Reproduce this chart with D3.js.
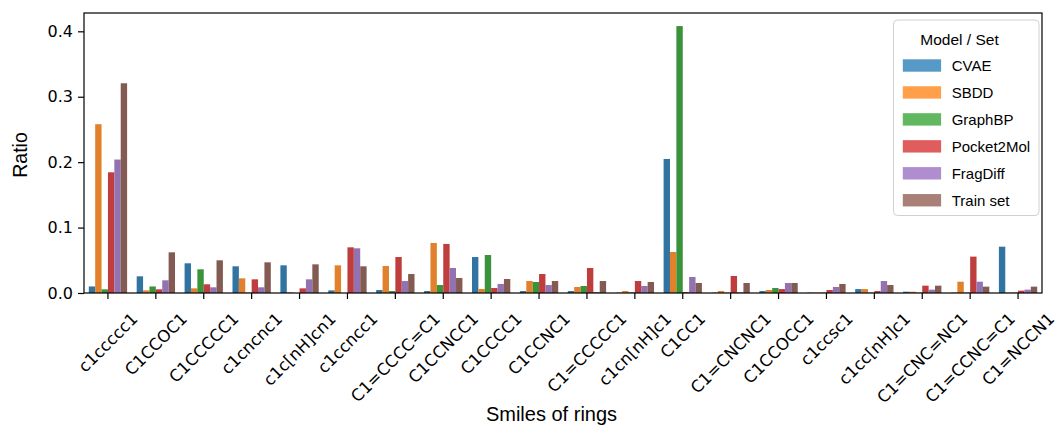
<!DOCTYPE html>
<html>
<head>
<meta charset="utf-8">
<script src="https://cdn.jsdelivr.net/npm/d3@7"></script>
<style>
body{margin:0;background:#fff;}
svg{display:block;}
</style>
</head>
<body>
<svg width="1057" height="425"></svg>
<script>
var categories = ['c1ccccc1','C1CCOC1','C1CCCCC1','c1cncnc1','c1c[nH]cn1','c1ccncc1','C1=CCCC=C1','C1CCNCC1','C1CCCC1','C1CCNC1',
	'C1=CCCCC1','c1cn[nH]c1','C1CC1','C1=CNCNC1','C1CCOCC1','c1ccsc1','c1cc[nH]c1','C1=CNC=NC1','C1=CCNC=C1','C1=NCCN1'];
var seriesNames = ['CVAE','SBDD','GraphBP','Pocket2Mol','FragDiff','Train set'];
var cvae =       [0.010,0.0255,0.0454,0.0408,0.0423,0.004,0.0046,0.003,0.055,0.003,0.003,0.0005,0.2049,0.0005,0.003,0.0005,0.006,0.002,0.0005,0.0708];
var sbdd =       [0.258,0.004,0.0071,0.0224,0.001,0.0423,0.0413,0.0765,0.0061,0.0183,0.0092,0.003,0.0627,0.003,0.0046,0.0005,0.006,0.002,0.0173,0.0005];
var graphbp =    [0.0056,0.010,0.0362,0.0005,0,0,0.003,0.0122,0.0581,0.0168,0.0107,0.001,0.408,0.0005,0.0076,0.0005,0.0005,0.0005,0.0005,0.0005];
var pocket2mol = [0.1845,0.0056,0.0133,0.0209,0.0071,0.0698,0.055,0.075,0.0076,0.029,0.0382,0.0183,0.0015,0.026,0.006,0.0046,0.003,0.0112,0.0556,0.0036];
var fragdiff =   [0.204,0.0194,0.0087,0.0087,0.0209,0.0683,0.0183,0.0382,0.0138,0.0122,0.0015,0.0107,0.0245,0.001,0.0153,0.0092,0.0183,0.0051,0.0173,0.0051];
var trainset =   [0.3206,0.0622,0.050,0.0469,0.0438,0.0408,0.029,0.0229,0.0214,0.0183,0.0183,0.0168,0.0153,0.0153,0.0153,0.0138,0.0122,0.0112,0.0097,0.0097];
var yTicks = [0,0.1,0.2,0.3,0.4];

var barColors = ['#3274a1','#e1812c','#3a923a','#c03d3e','#9372b2','#845b53'];
var legendColors = ['#5799c7','#ff9f4a','#61b861','#e05d5e','#af8dce','#a98078'];

var svg = d3.select('svg');
var margin = {left:84,right:15,top:13,bottom:132};
var width = +svg.attr('width'), height = +svg.attr('height');
var allSeries = [cvae,sbdd,graphbp,pocket2mol,fragdiff,trainset];

var data = categories.map((c,i) => ({cat:c, vals:allSeries.map(s => s[i])}));

var xscale = d3.scaleBand()
	.domain(categories)
	.range([margin.left, width - margin.right])
	.padding(0);

var xinner = d3.scaleBand()
	.domain(d3.range(seriesNames.length))
	.range([xscale.bandwidth()*0.1, xscale.bandwidth()*0.9])
	.padding(0);

var yscale = d3.scaleLinear()
	.domain([0,0.428])
	.range([height - margin.bottom, margin.top]);

var groups = svg.append('g').selectAll('g').data(data)
	.enter()
	.append('g')
	.attr('transform', d => `translate(${xscale(d.cat)},0)`);

groups.selectAll('rect').data(d => d.vals)
	.enter()
	.append('rect')
	.attr('x', (v,i) => xinner(i))
	.attr('y', v => yscale(v))
	.attr('width', xinner.bandwidth())
	.attr('height', v => yscale(0) - yscale(v))
	.attr('fill', (v,i) => barColors[i]);

// axes
var yaxis = svg.append('g')
	.attr('transform', `translate(${margin.left},0)`)
	.call(d3.axisLeft(yscale).tickValues(yTicks).tickFormat(d3.format('.1f')).tickSize(6).tickPadding(5));
yaxis.select('.domain').remove();
yaxis.selectAll('text').style('font-family','DejaVu Sans').style('font-size','16px').attr('fill','#000');
yaxis.selectAll('line').attr('stroke','#000').attr('stroke-width',1.2);

var xaxis = svg.append('g')
	.attr('transform', `translate(0,${yscale(0)})`)
	.call(d3.axisBottom(xscale).tickSize(6).tickFormat(''));
xaxis.select('.domain').remove();
xaxis.selectAll('line').attr('stroke','#000').attr('stroke-width',1.2);

// rotated tick labels, centred on the tick like matplotlib ha=center
var fs = 16.5, labTop = 309;
svg.append('g').selectAll('text').data(categories)
	.enter()
	.append('text')
	.text(d => d)
	.style('font-family','DejaVu Sans')
	.style('font-size', fs + 'px')
	.attr('text-anchor','middle')
	.attr('dy','0.35em')
	.attr('fill','#000')
	.each(function(d){
		var L = this.getComputedTextLength();
		var W = (L + fs*1.17) * Math.SQRT1_2;
		var cx = xscale(d) + xscale.bandwidth()/2, cy = labTop + W/2;
		d3.select(this).attr('transform', `translate(${cx},${cy}) rotate(-45)`);
	});

// frame
svg.append('rect')
	.attr('x', margin.left).attr('y', margin.top)
	.attr('width', width - margin.left - margin.right)
	.attr('height', yscale(0) - margin.top)
	.attr('fill','none').attr('stroke','#000').attr('stroke-width',1.2);

svg.append('text')
	.text('Smiles of rings')
	.attr('x', 551.5).attr('y', 421)
	.attr('text-anchor','middle')
	.style('font-family','Liberation Sans, Arial, sans-serif')
	.style('font-size','20px');

svg.append('text')
	.text('Ratio')
	.attr('transform', `translate(27,155) rotate(-90)`)
	.attr('text-anchor','middle')
	.style('font-family','Liberation Sans, Arial, sans-serif')
	.style('font-size','19.5px');

// legend
var lg = svg.append('g').attr('transform','translate(893.5,20)');
lg.append('rect')
	.attr('width',145.5).attr('height',195.5)
	.attr('rx',4).attr('ry',4)
	.attr('fill','rgba(255,255,255,0.8)')
	.attr('stroke','#d0d0d0').attr('stroke-width',1);
lg.append('text')
	.text('Model / Set')
	.attr('x',66).attr('y',24.5)
	.attr('text-anchor','middle')
	.style('font-family','Liberation Sans, Arial, sans-serif')
	.style('font-size','15.5px');
var items = lg.selectAll('g.item').data(seriesNames)
	.enter()
	.append('g')
	.attr('class','item')
	.attr('transform', (d,i) => `translate(0,${39.3 + i*26.95})`);
items.append('rect')
	.attr('x',9.3).attr('width',38.3).attr('height',12.4)
	.attr('fill', (d,i) => legendColors[i]);
items.append('text')
	.text(d => d)
	.attr('x',58.2).attr('y',6.2).attr('dy','0.36em')
	.style('font-family','Liberation Sans, Arial, sans-serif')
	.style('font-size','15px');
</script>
</body>
</html>
